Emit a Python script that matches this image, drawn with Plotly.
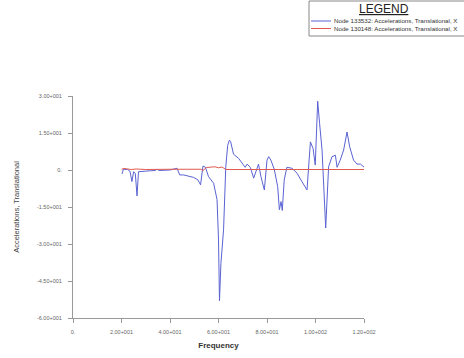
import plotly.graph_objects as go

# ---- data ----
freq_blue = [20.2, 20.8, 22.5, 23.5, 24.3, 25.0, 25.7, 26.4, 27.0, 28.5, 32.0, 34.0, 34.6, 35.5,
             40.0, 42.9, 44.0, 45.6, 48.0, 49.7, 51.5, 52.6, 53.6, 54.6, 55.9, 58.0, 59.4, 60.0,
             60.4, 61.0, 62.1, 63.0, 63.8, 64.5, 65.0, 66.2, 68.3, 69.7, 71.0, 71.8, 73.1, 74.5,
             75.6, 76.5, 77.5, 78.9, 80.0, 80.7, 81.6, 83.0, 84.4, 85.1, 85.8, 86.3, 87.1, 88.2,
             90.3, 92.4, 94.4, 96.5, 97.9, 99.0, 99.9, 100.9, 101.7, 102.7, 104.2, 105.4, 106.8,
             108.2, 108.9, 110.2, 111.6, 113.0, 114.1, 115.7, 117.1, 118.5, 120.0]
acc_blue = [-1.6, 0.3, 0.2, -0.5, -4.7, -0.7, -1.5, -10.5, -0.7, -0.5, -0.3, -0.2, 0.3, -0.2,
            0.0, 0.7, -2.0, -2.0, -2.5, -3.0, -4.0, -6.0, 1.6, 1.1, -2.7, -5.4, -12.0, -28.0,
            -53.0, -38.0, -24.0, 1.3, 10.0, 12.1, 11.5, 6.4, 4.7, 2.9, 1.1, 2.4, 1.1, -3.3,
            0.0, 2.4, -2.7, -8.1, 4.0, 5.4, 4.0, 0.3, -6.7, -16.1, -12.8, -16.4, -4.0, 1.1,
            0.7, -1.3, -4.7, -8.1, 11.4, 8.7, 2.0, 27.9, 18.8, 8.1, -23.5, 1.3, 5.4,
            6.0, 1.1, 4.0, 8.1, 15.4, 9.4, 4.0, 2.4, 2.4, 1.2]

freq_red = [20.0, 21.0, 22.0, 24.0, 26.0, 30.0, 40.0, 44.0, 50.0, 52.0, 53.0, 53.5, 55.0,
            57.0, 58.5, 60.0, 61.5, 63.0, 70.0, 80.0, 90.0, 100.0, 110.0, 120.0]
acc_red = [0.3, 0.6, 0.5, 0.2, 0.4, 0.2, 0.3, 0.2, 0.2, 0.3, 0.3, -0.3, 1.0,
           1.2, 1.3, 0.9, 1.2, 0.2, 0.2, 0.2, 0.2, 0.2, 0.2, 0.2]

x_ticks = [0, 20, 40, 60, 80, 100, 120]
x_tick_text = ["0.", "2.00+001", "4.00+001", "6.00+001", "8.00+001", "1.00+002", "1.20+002"]
y_ticks = [30, 15, 0, -15, -30, -45, -60]
y_tick_text = ["3.00+001", "1.50+001", "0.", "-1.50+001", "-3.00+001", "-4.50+001", "-6.00+001"]

names = ["Node 133532: Accelerations, Translational, X",
         "Node 130148: Accelerations, Translational, X"]
blue = "#5a63d2"
red = "#e05a50"
FONT = "Liberation Sans, Arial"

W, H = 464, 358
ML, MR, MT, MB = 73, 100, 96, 40

def px(x):
    return (x - ML) / (W - ML - MR)

def py(y):
    return (H - MB - y) / (H - MT - MB)

fig = go.Figure()
fig.add_trace(go.Scatter(x=freq_blue, y=acc_blue, mode="lines", name=names[0],
                         line=dict(color=blue, width=1), showlegend=False))
fig.add_trace(go.Scatter(x=freq_red, y=acc_red, mode="lines", name=names[1],
                         line=dict(color=red, width=1), showlegend=False))

axis_common = dict(showgrid=False, zeroline=False, showline=True, linecolor="#999999",
                   linewidth=1, ticks="outside", ticklen=4, tickcolor="#999999", tickwidth=1,
                   automargin=False,
                   tickfont=dict(family=FONT, size=5.5, color="#666666"))

fig.update_xaxes(range=[0, 120], tickvals=x_ticks, ticktext=x_tick_text,
                 title=dict(text="<b>Frequency</b>", font=dict(family=FONT, size=8, color="#333333"), standoff=8),
                 ticklabelstandoff=4, **axis_common)
fig.update_yaxes(range=[-60, 30], tickvals=y_ticks, ticktext=y_tick_text,
                 title=dict(text="Accelerations, Translational", font=dict(family=FONT, size=7.5, color="#444444"), standoff=16),
                 ticklabelstandoff=5, **axis_common)

# manual legend box
shapes = [
    dict(type="rect", xref="paper", yref="paper", x0=px(309), x1=px(470), y0=py(36), y1=py(1),
         line=dict(color="#888888", width=1), fillcolor="white"),
    dict(type="line", xref="paper", yref="paper", x0=px(311), x1=px(331), y0=py(21), y1=py(21),
         line=dict(color=blue, width=1)),
    dict(type="line", xref="paper", yref="paper", x0=px(311), x1=px(331), y0=py(28.5), y1=py(28.5),
         line=dict(color=red, width=1)),
]
annotations = [
    dict(xref="paper", yref="paper", x=px(384), y=py(9), text="<u>LEGEND</u>", showarrow=False,
         xanchor="center", yanchor="middle", font=dict(family=FONT, size=12, color="#222222")),
    dict(xref="paper", yref="paper", x=px(332), y=py(21), text=names[0], showarrow=False,
         xanchor="left", yanchor="middle", font=dict(family=FONT, size=6.2, color="#333333")),
    dict(xref="paper", yref="paper", x=px(332), y=py(28.5), text=names[1], showarrow=False,
         xanchor="left", yanchor="middle", font=dict(family=FONT, size=6.2, color="#333333")),
]

fig.update_layout(width=W, height=H, margin=dict(l=ML, r=MR, t=MT, b=MB, pad=0),
                  paper_bgcolor="white", plot_bgcolor="white", shapes=shapes,
                  annotations=annotations, showlegend=False)

fig.write_html("out.html", config={"displayModeBar": False},
               post_script="document.body.style.margin='0';document.body.style.overflow='hidden';")
